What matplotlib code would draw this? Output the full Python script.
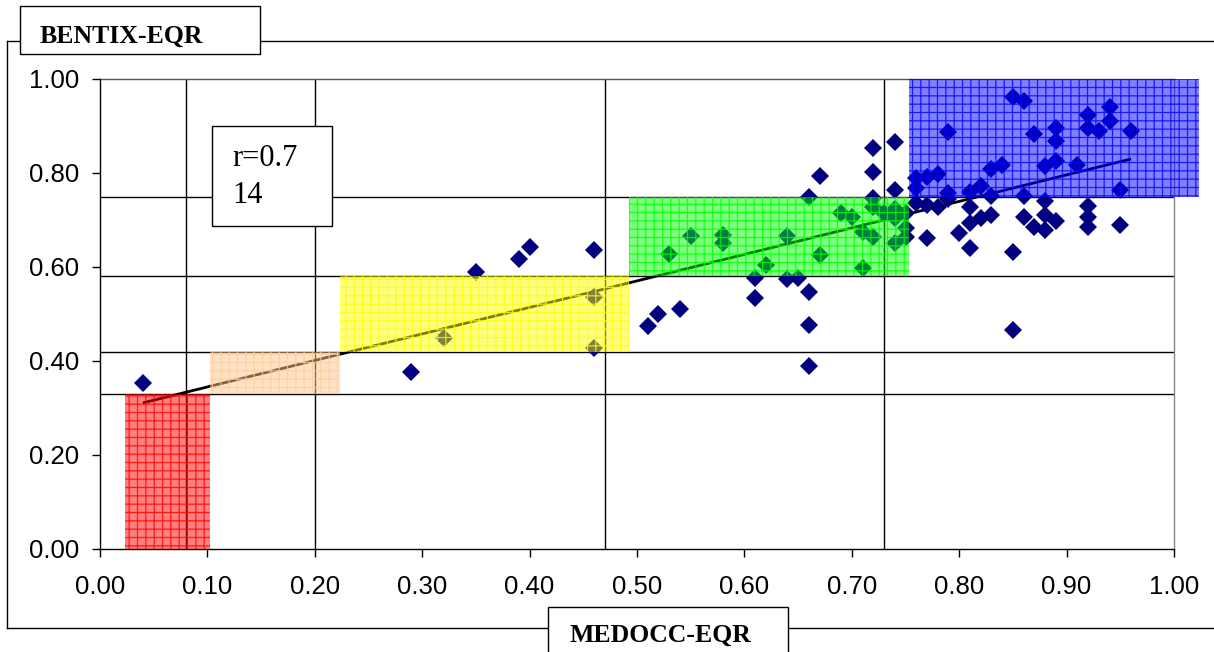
import numpy as np
import matplotlib
matplotlib.use("Agg")
import matplotlib.pyplot as plt
from matplotlib.patches import Rectangle
from matplotlib.lines import Line2D

# Station scores: MEDOCC-EQR (x) against BENTIX-EQR (y)
medocc_eqr = [
    0.04, 0.29, 0.32, 0.35, 0.39, 0.40, 0.46, 0.46, 0.46, 0.51,
    0.52, 0.54, 0.53, 0.55, 0.58, 0.58, 0.61, 0.61, 0.62, 0.64,
    0.64, 0.65, 0.66, 0.66, 0.66, 0.66, 0.67, 0.67, 0.69, 0.70,
    0.71, 0.71, 0.72, 0.72, 0.72, 0.72, 0.72, 0.73, 0.74, 0.74,
    0.74, 0.74, 0.74, 0.75, 0.75, 0.75, 0.76, 0.76, 0.76, 0.77,
    0.77, 0.77, 0.78, 0.78, 0.79, 0.79, 0.79, 0.80, 0.81, 0.81,
    0.81, 0.81, 0.82, 0.82, 0.83, 0.83, 0.83, 0.84, 0.85, 0.85,
    0.85, 0.86, 0.86, 0.86, 0.87, 0.87, 0.88, 0.88, 0.88, 0.88,
    0.89, 0.89, 0.89, 0.89, 0.91, 0.92, 0.92, 0.92, 0.92, 0.92,
    0.93, 0.94, 0.94, 0.95, 0.95, 0.96,
]
bentix_eqr = [
    0.353, 0.377, 0.449, 0.589, 0.617, 0.643, 0.636, 0.536, 0.428, 0.474,
    0.500, 0.510, 0.628, 0.666, 0.668, 0.651, 0.577, 0.534, 0.604, 0.666,
    0.574, 0.577, 0.547, 0.477, 0.389, 0.749, 0.794, 0.625, 0.715, 0.706,
    0.674, 0.598, 0.853, 0.802, 0.747, 0.728, 0.664, 0.715, 0.866, 0.764,
    0.723, 0.704, 0.651, 0.715, 0.683, 0.664, 0.789, 0.768, 0.736, 0.791,
    0.732, 0.662, 0.798, 0.727, 0.887, 0.757, 0.745, 0.672, 0.760, 0.728,
    0.694, 0.640, 0.772, 0.704, 0.808, 0.751, 0.711, 0.817, 0.962, 0.632,
    0.465, 0.953, 0.751, 0.706, 0.883, 0.685, 0.815, 0.740, 0.711, 0.679,
    0.896, 0.868, 0.826, 0.698, 0.817, 0.923, 0.896, 0.730, 0.707, 0.685,
    0.889, 0.940, 0.911, 0.764, 0.689, 0.889,
]

# Linear trend (y = intercept + slope * x) over the sampled range
trend_slope = 0.564
trend_intercept = 0.2884
trend_range = [0.04, 0.96]
r_label = "r=0.7\n14"

# Class boundaries drawn as reference lines
medocc_bounds = [0.08, 0.20, 0.47, 0.73]
bentix_bounds = [0.33, 0.42, 0.58, 0.75]

# Agreement boxes: (x0, x1, y0, y1), fill colour, grid colour
class_boxes = [
    ((0.023, 0.102, 0.00, 0.33), (1.0, 0.0, 0.0), (1.0, 0.0, 0.0)),
    ((0.102, 0.2235, 0.33, 0.42), (1.0, 0.78, 0.56), (1.0, 0.80, 0.60)),
    ((0.2235, 0.4926, 0.42, 0.58), (1.0, 1.0, 0.0), (1.0, 1.0, 0.0)),
    ((0.4926, 0.753, 0.58, 0.75), (0.0, 1.0, 0.0), (0.0, 1.0, 0.0)),
    ((0.753, 1.023, 0.75, 1.00), (0.0, 0.0, 1.0), (0.0, 0.0, 1.0)),
]

x_ticks = np.round(np.arange(0, 1.0001, 0.1), 2)
y_ticks = np.round(np.arange(0, 1.0001, 0.2), 2)

plt.rcParams["hatch.linewidth"] = 0.9

W, H = 1214, 652
fig = plt.figure(figsize=(W / 100, H / 100), dpi=100)
fig.patch.set_facecolor("white")


def fx(px):
    return px / W


def fy(py):
    return 1 - py / H


ax = fig.add_axes([fx(100), fy(549), fx(1174) - fx(100), fy(79) - fy(549)])
ax.set_xlim(0, 1)
ax.set_ylim(0, 1)

for xv in medocc_bounds:
    ax.axvline(xv, color="black", lw=1.0, zorder=1)
for yv in bentix_bounds:
    ax.axhline(yv, color="black", lw=1.0, zorder=1)

tx = np.array(trend_range)
ax.plot(tx, trend_intercept + trend_slope * tx, color="black", lw=2.0,
        zorder=2, solid_capstyle="butt")

ax.plot(medocc_eqr, bentix_eqr, linestyle="none", marker="D",
        markersize=9, color="#000080", markeredgewidth=0, zorder=3)

for (x0, x1, y0, y1), fill, grid in class_boxes:
    ax.add_patch(Rectangle((x0, y0), x1 - x0, y1 - y0,
                           facecolor=(*fill, 0.5), edgecolor=(*grid, 0.8),
                           hatch="++", linewidth=0, zorder=4, clip_on=False))

ax.set_xticks(x_ticks)
ax.set_yticks(y_ticks)
ax.set_xticklabels([f"{v:.2f}" for v in x_ticks])
ax.set_yticklabels([f"{v:.2f}" for v in y_ticks])
ax.tick_params(axis="both", direction="out", length=6, width=1,
               labelsize=18.5, colors="black")
ax.tick_params(axis="x", pad=13)
ax.tick_params(axis="y", pad=9)
for lab in ax.get_xticklabels() + ax.get_yticklabels():
    lab.set_family("Liberation Sans")

ax.spines["left"].set_color("black")
ax.spines["bottom"].set_color("black")
ax.spines["top"].set_color("#555555")
ax.spines["right"].set_color("#888888")
for sp in ax.spines.values():
    sp.set_linewidth(1.0)
    sp.set_zorder(1)

# Outer chart frame
frame_kw = dict(color="black", lw=1.0, transform=fig.transFigure)
fig.add_artist(Line2D([fx(7), fx(7)], [fy(628), fy(41)], **frame_kw))
fig.add_artist(Line2D([fx(7), 1.0], [fy(41), fy(41)], **frame_kw))
fig.add_artist(Line2D([fx(7), 1.0], [fy(628), fy(628)], **frame_kw))


def label_box(x0, y0, x1, y1, zorder=10):
    fig.add_artist(Rectangle((fx(x0), fy(y1)), fx(x1) - fx(x0), fy(y0) - fy(y1),
                             transform=fig.transFigure, facecolor="white",
                             edgecolor="black", lw=1.0, zorder=zorder,
                             clip_on=False))


label_box(20, 6, 260, 54)
fig.text(fx(40), fy(43), "BENTIX-EQR", family="Liberation Serif",
         weight="bold", fontsize=18.5, ha="left", va="baseline", zorder=11)

label_box(548, 607, 788, 680)
fig.text(fx(569), fy(642), "MEDOCC-EQR", family="Liberation Serif",
         weight="bold", fontsize=18.5, ha="left", va="baseline", zorder=11)

label_box(212, 126, 332, 226)
r_lines = r_label.split("\n")
fig.text(fx(232), fy(166), r_lines[0], family="Liberation Serif",
         fontsize=22, ha="left", va="baseline", zorder=11)
fig.text(fx(232), fy(203), r_lines[1], family="Liberation Serif",
         fontsize=22, ha="left", va="baseline", zorder=11)

fig.savefig("out.png", dpi=100, facecolor="white")
